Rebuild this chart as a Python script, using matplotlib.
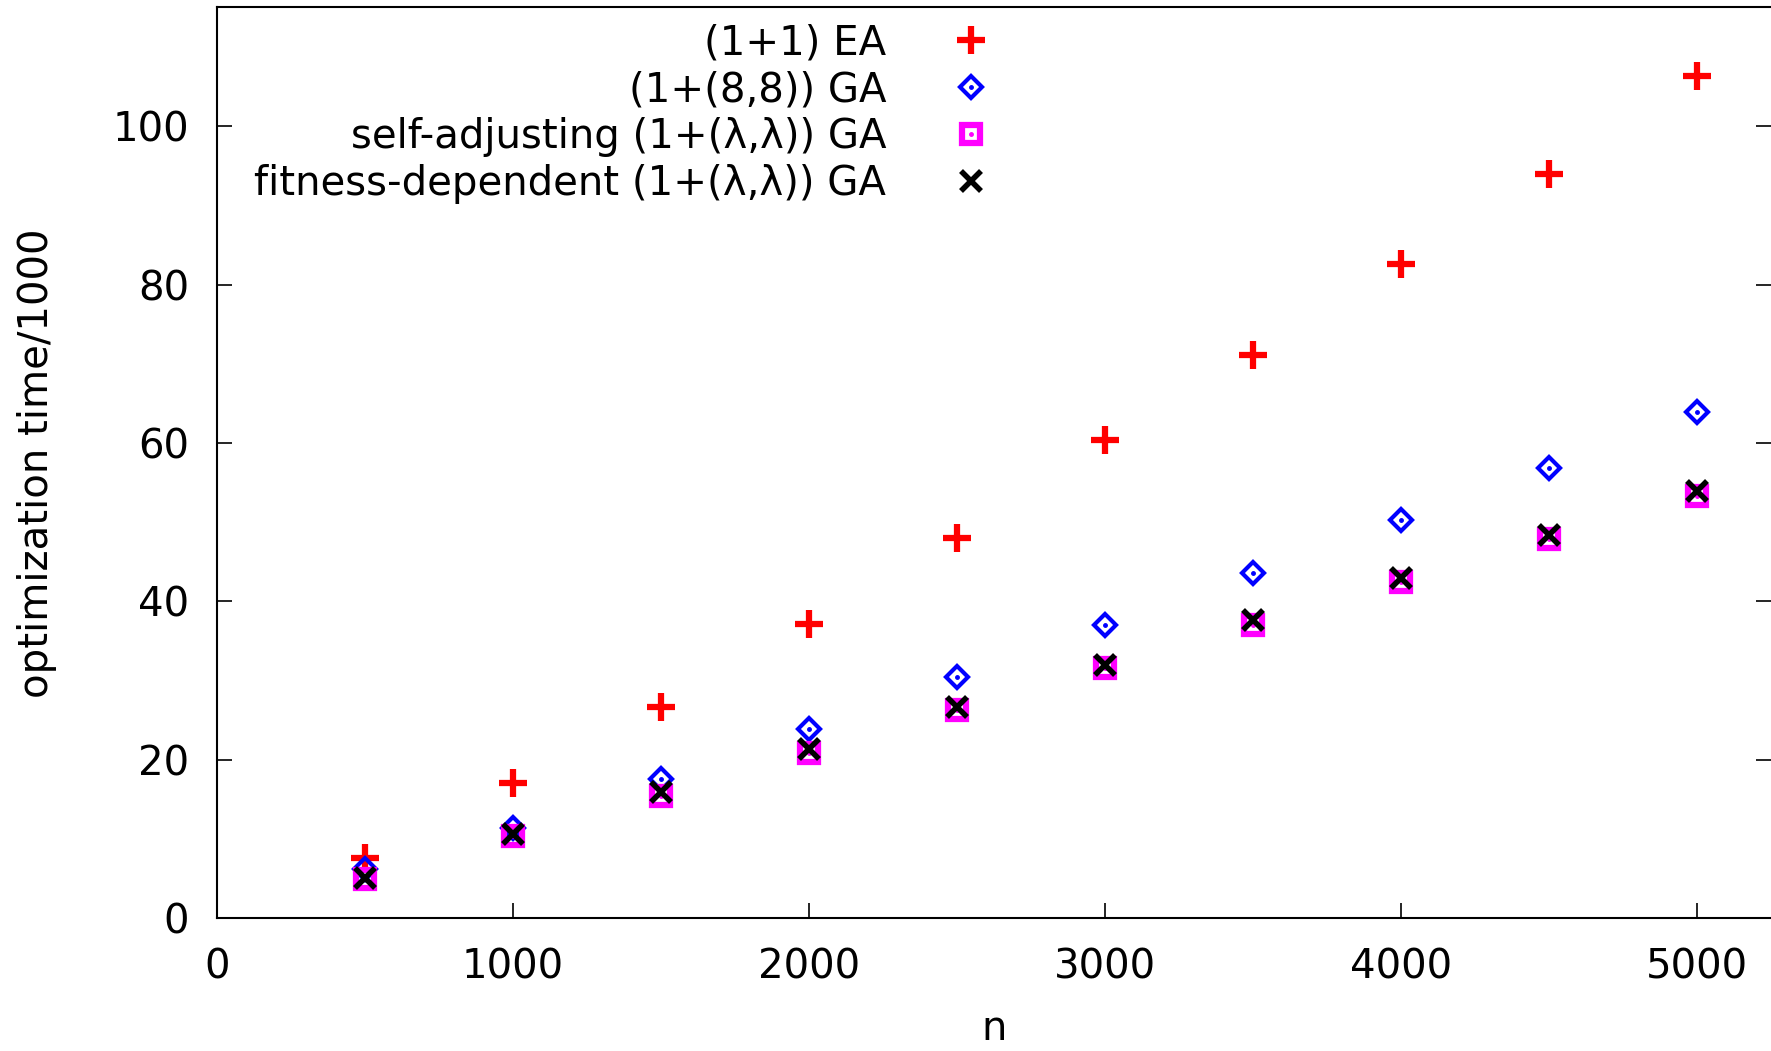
import matplotlib
matplotlib.use('Agg')
import matplotlib.pyplot as plt
from matplotlib.legend_handler import HandlerTuple

# problem sizes
n_values = [500, 1000, 1500, 2000, 2500, 3000, 3500, 4000, 4500, 5000]

# optimization time / 1000
ea_times = [7.6, 17.1, 26.7, 37.1, 48.0, 60.4, 71.1, 82.6, 94.0, 106.3]
ga88_times = [6.2, 11.4, 17.6, 23.9, 30.4, 37.0, 43.6, 50.3, 56.9, 63.9]
self_adj_times = [4.9, 10.3, 15.4, 20.9, 26.3, 31.6, 37.0, 42.4, 47.9, 53.3]
fit_dep_times = [5.1, 10.6, 15.9, 21.4, 26.6, 32.0, 37.6, 43.0, 48.4, 53.9]

labels = ['(1+1) EA', '(1+(8,8)) GA',
          'self-adjusting (1+(λ,λ)) GA', 'fitness-dependent (1+(λ,λ)) GA']

plt.rcParams['font.family'] = ['DejaVu Sans']

fig = plt.figure(figsize=(17.71, 10.51), dpi=100)
ax = fig.add_axes([0.1225, 0.1265, 0.8775, 0.8664])

# (1+1) EA - thick red plus
h_ea, = ax.plot(n_values, ea_times, ls='none', marker='+', ms=20, mew=4.5,
                color='#ff0000')

# (1+(8,8)) GA - blue diamond with dot
h_ga, = ax.plot(n_values, ga88_times, ls='none', marker='D', ms=11, mew=3,
                mfc='none', mec='#0000ff')
h_ga_dot, = ax.plot(n_values, ga88_times, ls='none', marker='o', ms=2.5,
                    color='#0000ff')

# self-adjusting - magenta square with dot
h_sa, = ax.plot(n_values, self_adj_times, ls='none', marker='s', ms=13, mew=4.5,
                mfc='none', mec='#ff00ff')
h_sa_dot, = ax.plot(n_values, self_adj_times, ls='none', marker='o', ms=2.5,
                    color='#ff00ff')

# fitness-dependent - black cross
h_fd, = ax.plot(n_values, fit_dep_times, ls='none', marker='x', ms=15, mew=4,
                color='black')

ax.set_xlim(0, 5250)
ax.set_ylim(0, 115)
ax.set_xticks([0, 1000, 2000, 3000, 4000, 5000])
ax.set_yticks([0, 20, 40, 60, 80, 100])

ax.tick_params(axis='both', direction='in', length=11, width=1.2,
               labelsize=29, colors='black')
ax.tick_params(axis='x', pad=21, top=False)
ax.tick_params(axis='y', pad=20, right=True)

for side in ['left', 'top', 'bottom']:
    ax.spines[side].set_linewidth(1.5)
ax.spines['right'].set_visible(False)

ax.set_xlabel('n', fontsize=29, labelpad=16)
ax.set_ylabel('optimization time/1000', fontsize=29, labelpad=40)

leg = ax.legend([h_ea, (h_ga, h_ga_dot), (h_sa, h_sa_dot), h_fd], labels,
                handler_map={tuple: HandlerTuple(ndivide=1)},
                loc='upper right', bbox_to_anchor=(0.511, 1.0),
                markerfirst=False, frameon=False, fontsize=29,
                handlelength=1.2, handletextpad=1.5, labelspacing=0.17,
                borderaxespad=0)

fig.savefig('out.png', dpi=100)
